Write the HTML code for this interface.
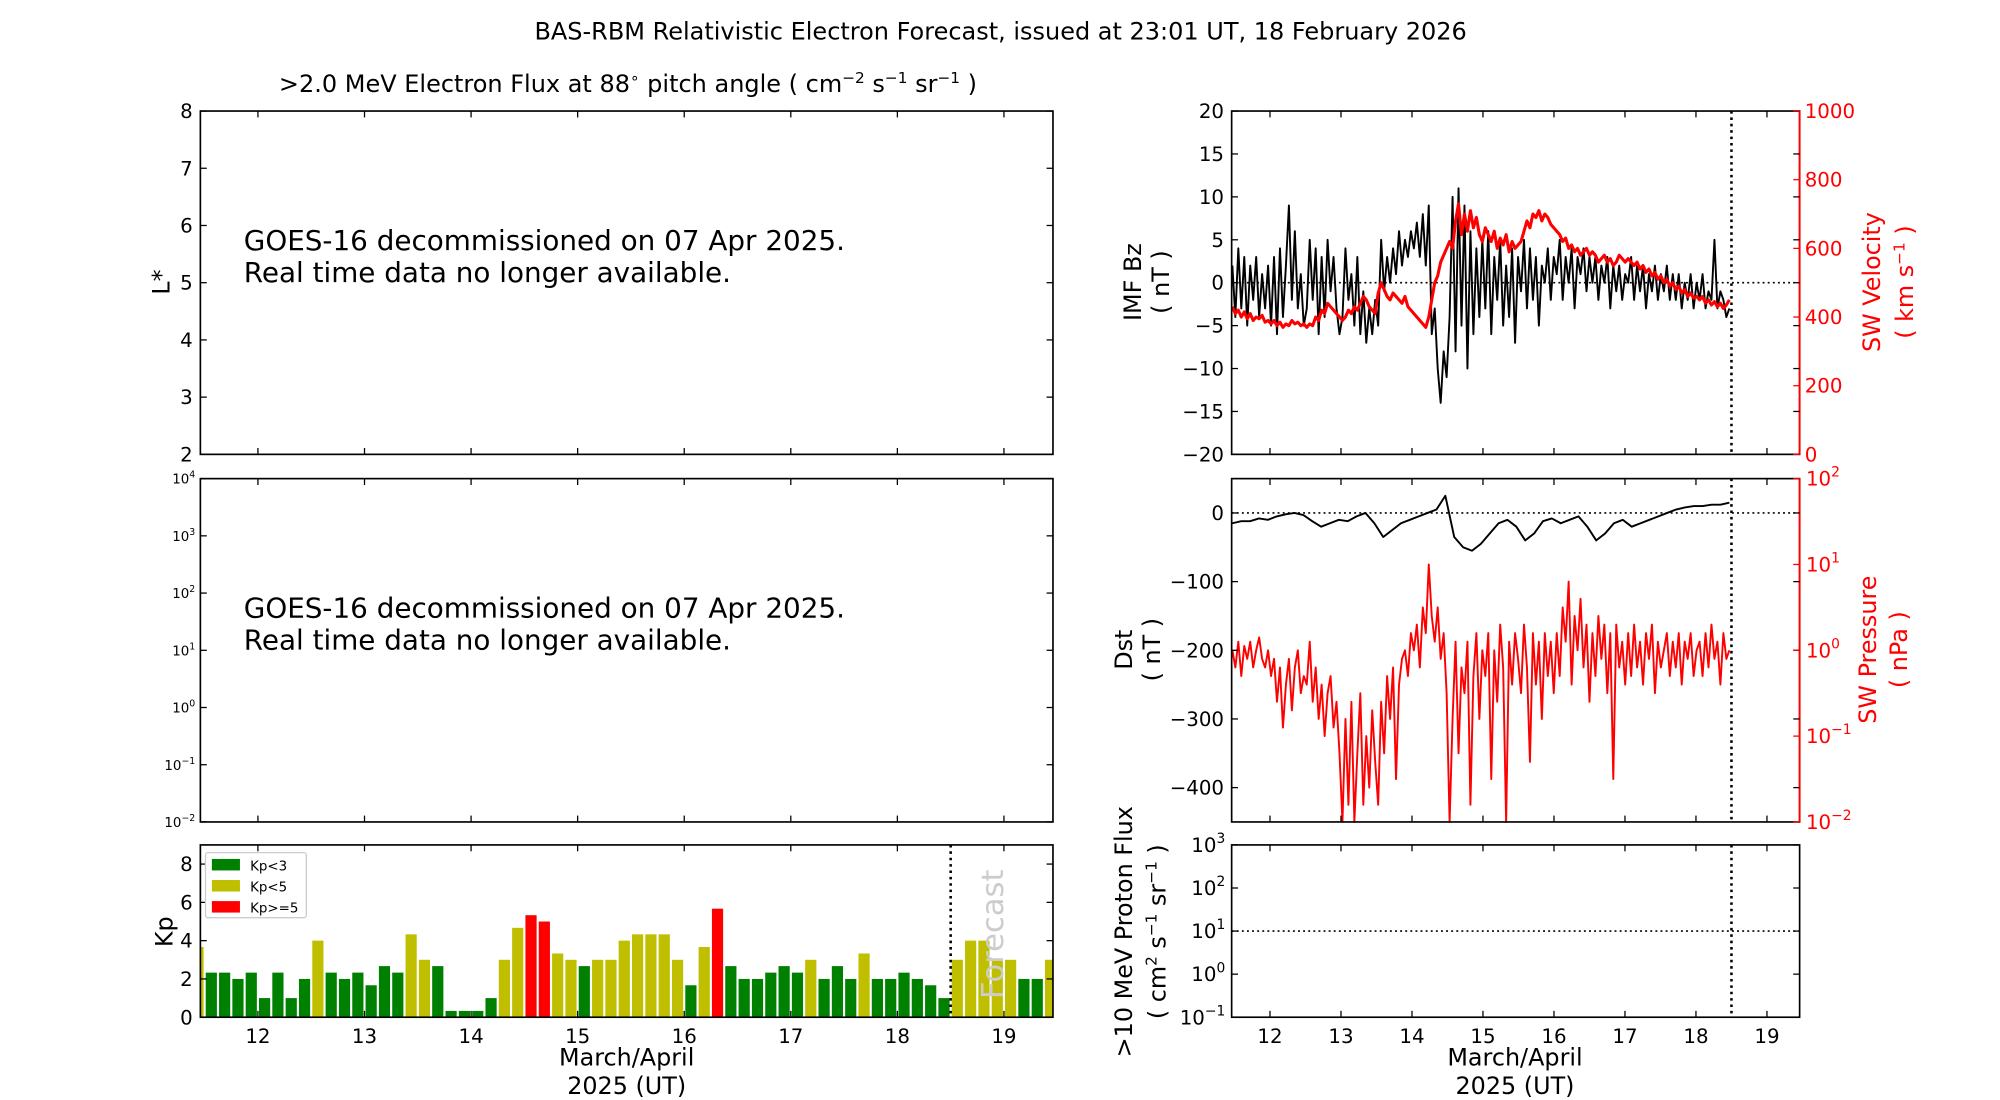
<!DOCTYPE html>
<html><head><meta charset="utf-8"><style>
html,body{margin:0;padding:0;background:#fff}
svg{display:block;font-family:"DejaVu Sans","Liberation Sans",sans-serif}
</style></head><body>
<svg id="chart" xmlns="http://www.w3.org/2000/svg" width="2000" height="1100" viewBox="0 0 1567 861.85">
<rect width="1600" height="900" fill="#fff"/>
<text x="784" y="31" font-size="18.8" text-anchor="middle">BAS-RBM Relativistic Electron Forecast, issued at 23:01 UT, 18 February 2026</text>
<text x="492" y="72" font-size="18.8" text-anchor="middle">&gt;2.0 MeV Electron Flux at 88<tspan font-size="12" dy="-7">∘</tspan><tspan dy="7"> pitch angle ( cm</tspan><tspan font-size="12" dy="-7">−2</tspan><tspan dy="7"> s</tspan><tspan font-size="12" dy="-7">−1</tspan><tspan dy="7"> sr</tspan><tspan font-size="12" dy="-7">−1</tspan><tspan dy="7"> )</tspan></text>
<g id="g"></g>
</svg>
<script>
const kpStart = 11.375;
const kpValues = [3.67,2.33,2.33,2,2.33,1,2.33,1,2,4,2.33,2,2.33,1.67,2.67,2.33,4.33,3,2.67,0.33,0.33,0.33,1,3,4.67,5.33,5,3.33,3,2.67,3,3,4,4.33,4.33,4.33,3,1.67,3.67,5.67,2.67,2,2,2.33,2.67,2.33,3,2,2.67,2,3.33,2,2,2.33,2,1.67,1,3,4,4,3,3,2,2,3];
const tsStart = 11.47;
const tsEnd = 18.47;
const bzValues = [2,-4,4,-3,3,-5,2,-2,3,-4,1,-3,2,
-5,3,-6,4,-4,2,9,-2,6,-3,1,-5,
-3,5,-2,4,-6,3,-4,5,-1,3,-3,-6,
-4,4,-2,1,-5,3,-6,-1,-7,-3,-6,-2,
-5,5,-1,3,0,4,1,6,2,5,3,6,
4,7,3,8,2,9,-6,-3,-10,-14,-8,-11,
-4,10,-8,11,-5,9,-10,6,-6,4,-4,5,
-3,6,-6,3,-2,5,-5,2,-4,4,-7,3,
-1,5,-3,4,-2,3,-5,2,0,4,-2,3,
1,5,-2,3,0,4,-3,3,1,4,-1,3,
0,3,-2,2,0,3,-3,2,-1,2,-2,1,
0,3,-2,2,-1,2,-3,1,-1,2,-2,1,
-1,2,-2,1,-2,1,-3,0,-2,1,-3,0,
-2,1,-3,-1,-2,5,-3,-1,-2,-4,-3];
const velValues = [430,410,420,400,415,395,410,390,400,395,405,385,390,
380,390,375,385,370,380,375,390,380,385,375,380,
370,380,375,400,390,420,410,440,430,420,410,400,
390,400,420,410,430,420,440,460,450,430,420,410,
470,500,480,460,450,470,460,450,440,460,430,420,
410,400,390,380,370,400,450,500,520,560,580,600,
620,600,680,730,640,700,650,710,660,690,640,620,
660,640,620,650,600,630,610,640,590,620,600,610,
620,650,680,660,700,690,710,680,700,690,670,660,
650,640,620,630,600,610,590,600,580,590,600,580,
590,580,560,570,580,560,570,550,560,580,570,560,
570,560,550,560,540,550,530,540,520,530,510,520,
500,510,490,500,480,490,470,480,460,470,455,460,
450,460,440,450,435,445,430,440,425,435,450];
const dstValues = [-15,-12,-12,-8,-10,
-5,-2,0,-3,-12,-20,-15,-10,
-12,-5,0,-15,-35,-25,-15,-10,
-5,0,5,25,-35,-50,-55,-45,
-30,-15,-10,-20,-40,-30,-12,-8,
-15,-10,-5,-20,-40,-30,-15,-10,
-20,-15,-10,-5,0,5,8,10,
10,12,12,15];
const presLog = [0,-0.2,0.1,-0.3,0.05,-0.1,0.1,-0.2,0,0.15,-0.1,-0.2,0,
-0.3,-0.1,-0.6,-0.2,-0.9,-0.4,-0.1,-0.7,-0.2,0,-0.5,-0.3,
-0.4,0.1,-0.6,-0.2,-0.8,-0.4,-1.0,-0.5,-0.3,-0.9,-0.6,-1.2,
-2,-0.8,-1.8,-0.6,-2,-1.2,-0.5,-1.8,-1.0,-1.6,-0.7,-1.3,
-1.8,-0.6,-1.2,-0.3,-0.8,-0.2,-1.5,-0.4,-0.1,0,-0.3,0.2,
0,0.3,-0.2,0.5,0.2,1.0,0.4,0.1,0.5,-0.1,0.2,-0.5,
-2,-0.8,0.1,-1.2,-0.2,-0.5,0.1,-1.8,-0.3,0.2,-0.8,0,
-0.3,0.2,-1.5,0,-0.6,0.3,-0.2,-2,0.1,-0.4,0.2,-0.1,
-0.5,0.3,-0.2,-1.3,0.2,-0.4,0.1,-0.8,0.2,-0.3,0.1,-0.5,
0.2,-0.3,0.5,0.1,0.8,-0.4,0.4,0,0.6,-0.2,0.3,-0.6,
0.2,-0.3,0.4,-0.1,0.3,-0.5,0.2,-1.5,0.3,-0.2,0.1,-0.4,
0.2,-0.3,0.3,-0.2,0.1,-0.4,0.2,-0.1,0.3,-0.5,0.1,-0.2,
0,0.2,-0.3,0.1,-0.2,0.2,-0.4,0.1,-0.1,0.2,-0.3,0,
0.1,-0.3,0.2,-0.2,0.3,-0.1,0.1,-0.4,0.2,-0.1,0];
const dayTicks = [12,13,14,15,16,17,18,19];
const forecastDay = 18.5;

const TK = 15.5, LB = 18.7;
const NS = "http://www.w3.org/2000/svg";
const root = document.getElementById('g');
function mk(tag, attrs, parent){
  const e = document.createElementNS(NS, tag);
  for (const k in attrs) e.setAttribute(k, attrs[k]);
  (parent||root).appendChild(e);
  return e;
}
const X0 = 11.46, X1 = 19.46;
function xs(L,R){ return d => L + (d - X0)/(X1 - X0)*(R - L); }
function ylin(T,B,lo,hi){ return v => B - (v - lo)/(hi - lo)*(B - T); }
function txt(x,y,s,size,anchor,fill,name){
  const t = mk('text',{x:x,y:y,'font-size':size,'text-anchor':anchor||'middle',fill:fill||'#000'});
  t.textContent = s;
  
  
  return t;
}
function logLabel(x,y,exp,size,anchor,fill,name){
  const t = mk('text',{x:x,y:y,'font-size':size,'text-anchor':anchor,fill:fill});
  
  
  const a = document.createElementNS(NS,'tspan'); a.textContent='10'; t.appendChild(a);
  const b = document.createElementNS(NS,'tspan'); b.setAttribute('font-size', size*0.7); b.setAttribute('dy', -size*0.45);
  b.textContent = exp < 0 ? '\u2212'+(-exp) : ''+exp; t.appendChild(b);
}
function frame(L,T,R,B,name){
  const r = mk('rect',{x:L,y:T,width:R-L,height:B-T,fill:'none',stroke:'#000','stroke-width':1.3});
  
  
}
function xTicks(L,T,R,B,labels,name){
  const X = xs(L,R);
  dayTicks.forEach(d=>{
    const x = X(d);
    mk('line',{x1:x,x2:x,y1:B,y2:B-5,stroke:'#000','stroke-width':1});
    mk('line',{x1:x,x2:x,y1:T,y2:T+5,stroke:'#000','stroke-width':1});
    if(labels) txt(x,B+20,String(d),TK,'middle','#000',name+'-tick-label');
  });
}
function yTicks(L,R,vals,Y,fmt,size,side,color,name){
  vals.forEach(v=>{
    const y = Y(v);
    if(side!=='right'){
      mk('line',{x1:L,x2:L+5,y1:y,y2:y,stroke:color||'#000'});
      mk('line',{x1:R,x2:R-5,y1:y,y2:y,stroke:'#000'});
      txt(L-6,y+5.5,fmt(v),size,'end',color||'#000',name);
    } else {
      mk('line',{x1:R,x2:R-5,y1:y,y2:y,stroke:color});
      txt(R+4,y+5.5,fmt(v),size,'start',color,name);
    }
  });
}
const mfmt = v => v<0 ? '\u2212'+(-v) : String(v);
function polyline(pts,color,w,name){
  const p = mk('polyline',{points:pts.map(q=>q[0].toFixed(2)+','+q[1].toFixed(2)).join(' '),fill:'none',stroke:color,'stroke-width':w,'stroke-linejoin':'round'});
  
  
}
function rot(x,y,s,size,fill,name){
  const t = txt(x,y,s,size,'middle',fill,name);
  t.setAttribute('transform','rotate(-90 '+x+' '+y+')');
  return t;
}

// ---------- Left panel 1: L*
{ const L=157,T=87,R=825,B=356;
  frame(L,T,R,B,'lstar-panel-frame');
  const Y = ylin(T,B,2,8);
  yTicks(L,R,[2,3,4,5,6,7,8],Y,String,TK,'left',null,'lstar-tick-label');
  xTicks(L,T,R,B,false,'lstar');
  rot(133,221,'L*',LB,'#000','lstar-axis-title');
  txt(191,196,'GOES-16 decommissioned on 07 Apr 2025.',21.8,'start','#000','lstar-notice-line1');
  txt(191,221,'Real time data no longer available.',21.8,'start','#000','lstar-notice-line2');
}
// ---------- Left panel 2: log flux
{ const L=157,T=375,R=825,B=644;
  frame(L,T,R,B,'flux-panel-frame');
  const Y = ylin(T,B,-2,4);
  for(let e=-2;e<=4;e++){ const y=Y(e);
    mk('line',{x1:L,x2:L+5,y1:y,y2:y,stroke:'#000'}); mk('line',{x1:R,x2:R-5,y1:y,y2:y,stroke:'#000'});
    logLabel(L-4,y+4,e,10.5,'end','#000','flux-tick-label'); }
  xTicks(L,T,R,B,false,'flux');
  txt(191,484,'GOES-16 decommissioned on 07 Apr 2025.',21.8,'start','#000','flux-notice-line1');
  txt(191,509,'Real time data no longer available.',21.8,'start','#000','flux-notice-line2');
}
// ---------- Kp panel
{ const L=157,T=662,R=825,B=797;
  const X = xs(L,R), Y = ylin(T,B,0,9);
  mk('rect',{x:L,y:T,width:R-L,height:B-T,fill:'#fff'});
  mk('clipPath',{id:'kpclip'}).appendChild(document.createElementNS(NS,'rect'));
  const cp = document.getElementById('kpclip').firstChild;
  cp.setAttribute('x',L); cp.setAttribute('y',T); cp.setAttribute('width',R-L); cp.setAttribute('height',B-T);
  const bg = mk('g',{'clip-path':'url(#kpclip)'});
  kpValues.forEach((v,i)=>{
    const d0 = kpStart + i*0.125;
    const x0 = X(d0+0.01), x1 = X(d0+0.115);
    const c = v>=5 ? '#ff0000' : (v>=3 ? '#bfbf00' : '#008000');
    const r = mk('rect',{x:x0,y:Y(v),width:x1-x0,height:B-Y(v),fill:c},bg);
    
    
  });
  const fx = X(forecastDay);
  const fl = mk('line',{x1:fx,x2:fx,y1:T,y2:B,stroke:'#000','stroke-width':2,'stroke-dasharray':'2,3'});
  
  
  rot(786,732,'Forecast',24,'#cccccc','forecast-label');
  frame(L,T,R,B,'kp-panel-frame');
  yTicks(L,R,[0,2,4,6,8],Y,String,TK,'left',null,'kp-tick-label');
  xTicks(L,T,R,B,true,'kp');
  rot(135,730,'Kp',LB,'#000','kp-axis-title');
  txt(491,835,'March/April',LB,'middle','#000','kp-x-axis-title-1');
  txt(491,857,'2025 (UT)',LB,'middle','#000','kp-x-axis-title-2');
  const lg = mk('rect',{x:161,y:668,width:79,height:51,fill:'#fff',stroke:'#ccc',rx:2});
  
  
  [['Kp<3','#008000'],['Kp<5','#bfbf00'],['Kp>=5','#ff0000']].forEach((it,i)=>{
    const y = 673 + i*16.5;
    const sw = mk('rect',{x:166,y:y,width:22,height:9,fill:it[1]});
    
    
    txt(196,y+9,it[0],10.5,'start','#000','legend-entry');
  });
}
// ---------- Right panel 1: Bz / velocity
{ const L=965,T=87,R=1410,B=356;
  const X = xs(L,R), Y = ylin(T,B,-20,20), YV = ylin(T,B,0,1000);
  const dt = (tsEnd-tsStart)/(bzValues.length-1);
  mk('line',{x1:L,x2:R,y1:Y(0),y2:Y(0),stroke:'#000','stroke-width':1.3,'stroke-dasharray':'1.5,2.5'});
  polyline(bzValues.map((v,i)=>[X(tsStart+i*dt),Y(v)]),'#000',1.5,'imf-bz-line');
  const dv = (tsEnd-tsStart)/(velValues.length-1);
  polyline(velValues.map((v,i)=>[X(tsStart+i*dv),YV(v)]),'#ff0000',2.4,'sw-velocity-line');
  const fx = X(forecastDay);
  mk('line',{x1:fx,x2:fx,y1:T,y2:B,stroke:'#000','stroke-width':2,'stroke-dasharray':'2,3'});
  frame(L,T,R,B,'bz-panel-frame');
  mk('line',{x1:R,x2:R,y1:T,y2:B,stroke:'#ff0000','stroke-width':1.5});
  yTicks(L,R,[-20,-15,-10,-5,0,5,10,15,20],Y,mfmt,TK,'left',null,'bz-tick-label');
  yTicks(L,R,[0,200,400,600,800,1000],YV,String,TK,'right','#ff0000','velocity-tick-label');
  xTicks(L,T,R,B,false,'bz');
  rot(894,221,'IMF Bz',LB,'#000','bz-axis-title');
  rot(916,221,'( nT )',LB,'#000','bz-axis-unit');
  rot(1473,221,'SW Velocity',LB,'#ff0000','velocity-axis-title');
  const t = rot(1499,221,'',LB,'#ff0000','velocity-axis-unit');
  t.innerHTML = '( km s<tspan font-size="12" dy="-7">−1</tspan><tspan dy="7"> )</tspan>';
}
// ---------- Right panel 2: Dst / pressure
{ const L=965,T=375,R=1410,B=644;
  const X = xs(L,R), Y = ylin(T,B,-450,50), YP = ylin(T,B,-2,2);
  mk('line',{x1:L,x2:R,y1:Y(0),y2:Y(0),stroke:'#000','stroke-width':1.3,'stroke-dasharray':'1.5,2.5'});
  const dp = (tsEnd-tsStart)/(presLog.length-1);
  polyline(presLog.map((v,i)=>[X(tsStart+i*dp),YP(v)]),'#ff0000',1.5,'sw-pressure-line');
  const dd = (tsEnd-tsStart)/(dstValues.length-1);
  polyline(dstValues.map((v,i)=>[X(tsStart+i*dd),Y(v)]),'#000',1.5,'dst-line');
  const fx = X(forecastDay);
  mk('line',{x1:fx,x2:fx,y1:T,y2:B,stroke:'#000','stroke-width':2,'stroke-dasharray':'2,3'});
  frame(L,T,R,B,'dst-panel-frame');
  mk('line',{x1:R,x2:R,y1:T,y2:B,stroke:'#ff0000','stroke-width':1.5});
  yTicks(L,R,[-400,-300,-200,-100,0],Y,mfmt,TK,'left',null,'dst-tick-label');
  for(let e=-2;e<=2;e++){ const y=YP(e);
    mk('line',{x1:R,x2:R-5,y1:y,y2:y,stroke:'#ff0000'});
    logLabel(R+5,y+5.5,e,TK,'start','#ff0000','pressure-tick-label'); }
  xTicks(L,T,R,B,false,'dst');
  rot(887,509,'Dst',LB,'#000','dst-axis-title');
  rot(909,509,'( nT )',LB,'#000','dst-axis-unit');
  rot(1470,509,'SW Pressure',LB,'#ff0000','pressure-axis-title');
  rot(1494,509,'( nPa )',LB,'#ff0000','pressure-axis-unit');
}
// ---------- Right panel 3: proton flux
{ const L=965,T=662,R=1410,B=797;
  const X = xs(L,R), Y = ylin(T,B,-1,3);
  mk('line',{x1:L,x2:R,y1:Y(1),y2:Y(1),stroke:'#000','stroke-width':1.3,'stroke-dasharray':'1.5,2.5'});
  const fx = X(forecastDay);
  mk('line',{x1:fx,x2:fx,y1:T,y2:B,stroke:'#000','stroke-width':2,'stroke-dasharray':'2,3'});
  frame(L,T,R,B,'proton-panel-frame');
  for(let e=-1;e<=3;e++){ const y=Y(e);
    mk('line',{x1:L,x2:L+5,y1:y,y2:y,stroke:'#000'}); mk('line',{x1:R,x2:R-5,y1:y,y2:y,stroke:'#000'});
    logLabel(L-5,y+5.5,e,TK,'end','#000','proton-tick-label'); }
  xTicks(L,T,R,B,true,'proton');
  rot(887,730,'>10 MeV Proton Flux',LB,'#000','proton-axis-title');
  const t = rot(913,730,'',LB,'#000','proton-axis-unit');
  t.innerHTML = '( cm<tspan font-size="12" dy="-7">2</tspan><tspan dy="7"> s</tspan><tspan font-size="12" dy="-7">−1</tspan><tspan dy="7"> sr</tspan><tspan font-size="12" dy="-7">−1</tspan><tspan dy="7"> )</tspan>';
  txt(1187,835,'March/April',LB,'middle','#000','proton-x-axis-title-1');
  txt(1187,857,'2025 (UT)',LB,'middle','#000','proton-x-axis-title-2');
}
</script>
</body></html>
